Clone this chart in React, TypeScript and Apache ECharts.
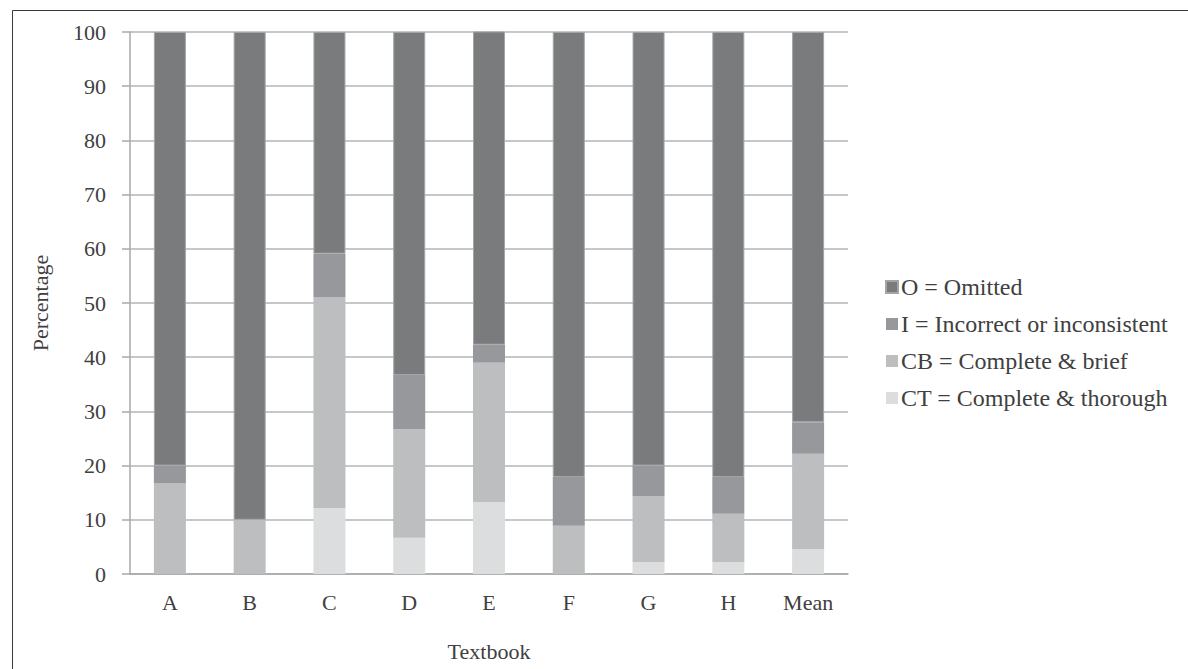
import React, { useEffect, useRef } from "react";
import * as echarts from "echarts";

const categories = ["A", "B", "C", "D", "E", "F", "G", "H", "Mean"];
const ctValues = [0, 0, 12.2, 6.7, 13.3, 0, 2.2, 2.2, 4.6];
const cbValues = [16.7, 10, 38.9, 20, 25.7, 8.9, 12.2, 8.9, 17.6];
const iValues = [3.3, 0, 8, 10, 3.3, 9, 5.6, 6.8, 5.8];
const oValues = [80, 90, 40.9, 63.3, 57.8, 82.1, 80, 82.1, 72];
const legendNames = [
  "O = Omitted",
  "I = Incorrect or inconsistent",
  "CB = Complete & brief",
  "CT = Complete & thorough",
];

const FONT = "'Liberation Serif', 'DejaVu Serif', serif";
const TXT = "#404040";

export default function App() {
  const ref = useRef<HTMLDivElement>(null);
  useEffect(() => {
    if (!ref.current) return;
    const chart = echarts.init(ref.current, undefined, { renderer: "svg" });
    const mk = (name: string, data: number[], color: string, border?: string) => ({
      name,
      type: "bar",
      stack: "total",
      data,
      barWidth: 32,
      itemStyle: border
        ? { color, borderColor: border, borderWidth: 1 }
        : { color },
    });
    chart.setOption({
      animation: false,
      textStyle: { fontFamily: FONT },
      graphic: [
        {
          type: "rect",
          shape: { x: 12.5, y: 10.5, width: 1200, height: 700 },
          style: { fill: "none", stroke: "#3a3a3a", lineWidth: 1 },
          silent: true,
        },
      ],
      grid: { left: 130, right: 340, top: 32, bottom: 95 },
      legend: {
        orient: "vertical",
        left: 880,
        top: 270,
        itemWidth: 12,
        itemHeight: 12,
        itemGap: 13,
        icon: "rect",
        data: legendNames,
        textStyle: { fontFamily: FONT, fontSize: 24, color: TXT, padding: [0, 0, 0, -2] },
      },
      xAxis: {
        type: "category",
        data: categories,
        name: "Textbook",
        nameLocation: "middle",
        nameGap: 66,
        nameTextStyle: { fontFamily: FONT, fontSize: 22, color: TXT },
        axisLine: { lineStyle: { color: "#a8a8a8", width: 1.5 } },
        axisTick: { show: false },
        axisLabel: { fontFamily: FONT, fontSize: 22, color: TXT, margin: 17 },
      },
      yAxis: {
        type: "value",
        min: 0,
        max: 100,
        interval: 10,
        name: "Percentage",
        nameLocation: "middle",
        nameGap: 79,
        nameTextStyle: { fontFamily: FONT, fontSize: 22, color: TXT },
        axisLine: { show: true, lineStyle: { color: "#a8a8a8", width: 1.5 } },
        axisTick: { show: true, length: 8, lineStyle: { color: "#a8a8a8", width: 1.5 } },
        axisLabel: { fontFamily: FONT, fontSize: 22, color: TXT, margin: 24 },
        splitLine: { lineStyle: { color: "#b4b4b4", width: 1.5 } },
      },
      series: [
        mk(legendNames[3], ctValues, "#dcdddf"),
        mk(legendNames[2], cbValues, "#bdbec0"),
        mk(legendNames[1], iValues, "#97989b"),
        mk(legendNames[0], oValues, "#7a7b7d", "#a3a4a6"),
      ],
    });
    return () => chart.dispose();
  }, []);
  return (
    <div
      ref={ref}
      style={{ position: "fixed", left: 0, top: 0, width: 1188, height: 669, background: "#fff" }}
    />
  );
}
